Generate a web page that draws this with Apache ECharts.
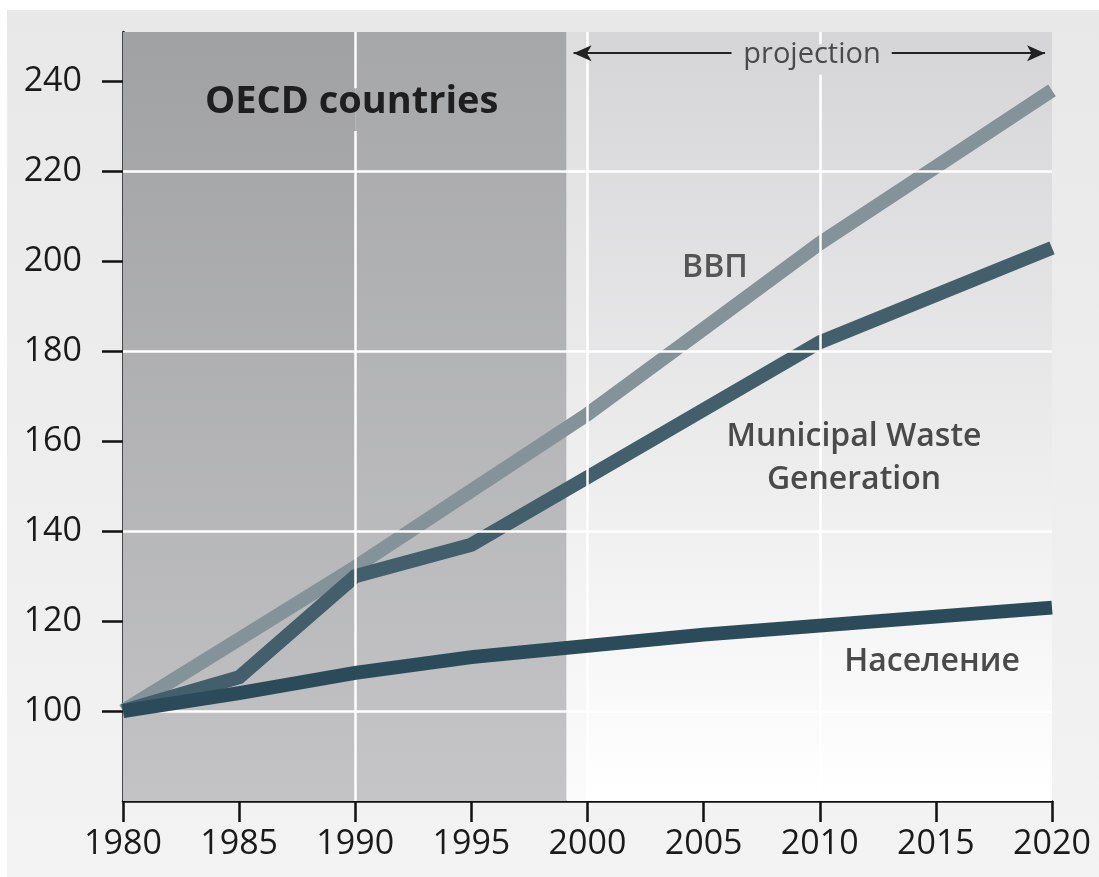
<!DOCTYPE html>
<html>
<head>
<meta charset="utf-8">
<script src="https://cdn.jsdelivr.net/npm/echarts@6/dist/echarts.min.js"></script>
<style>
html,body{margin:0;padding:0;background:#fff;}
#panel{position:absolute;left:7px;top:10px;right:0;bottom:0;background:linear-gradient(#e8e8e8,#f3f3f3);}
#chart{position:absolute;left:0;top:0;width:1099px;height:877px;}
</style>
</head>
<body>
<div id="panel"></div>
<div id="chart"></div>
<script>
// ---- data ----
const years = [1980, 1985, 1990, 1995, 2000, 2005, 2010, 2015, 2020];
const gdp = [100, 116, 132, 149, 166, 185, 204, 221, 238];
const waste = [100, 107.5, 130, 137, 152, 167, 182, 192.5, 203];
const population = [100, 104, 108.5, 112, 114.5, 117, 119, 121, 123];
const seriesNames = ['ВВП', 'Municipal Waste Generation', 'Население'];
const yTickLabels = [100, 120, 140, 160, 180, 200, 220, 240];
const xTickLabels = [1980, 1985, 1990, 1995, 2000, 2005, 2010, 2015, 2020];
const hGrid = [100, 140, 180, 220];
const projectionStart = 1999.1;

const FONT = '"Open Sans", "Noto Sans", sans-serif';

function grad(c1, c2) {
  return new echarts.graphic.LinearGradient(0, 0, 0, 1, [
    {offset: 0, color: c1}, {offset: 1, color: c2}
  ]);
}
function pairs(a, b) { return a.map((v, i) => [v, b[i]]); }

const chart = echarts.init(document.getElementById('chart'), null, {renderer: 'canvas'});

const gridLines = [];
hGrid.forEach(v => gridLines.push({yAxis: v}));
gridLines.push([{coord: [2000, 80]}, {coord: [2000, 251]}]);
gridLines.push([{coord: [2010, 80]}, {coord: [2010, 241.5]}]);
gridLines.push([{coord: [2010, 248.3]}, {coord: [2010, 251]}]);
gridLines.push([{coord: [1990, 80]}, {coord: [1990, 229]}]);
gridLines.push([{coord: [1990, 238.5]}, {coord: [1990, 251]}]);

const arrowY = 246.3;

const option = {
  backgroundColor: 'transparent',
  animation: false,
  grid: {left: 123, right: 47, top: 32, bottom: 76, containLabel: false},
  xAxis: {
    type: 'value', min: 1980, max: 2020, interval: 5,
    axisLine: {show: true, lineStyle: {color: '#111', width: 2.5}},
    axisTick: {show: true, length: 21, lineStyle: {color: '#111', width: 2.5}},
    axisLabel: {margin: 26, fontSize: 34, color: '#1a1a1a', fontFamily: FONT,
      customValues: xTickLabels, formatter: v => String(v)},
    splitLine: {show: false}
  },
  yAxis: {
    type: 'value', min: 80, max: 251,
    axisLine: {show: true, lineStyle: {color: '#111', width: 2.5}},
    axisTick: {show: true, length: 21, customValues: yTickLabels, lineStyle: {color: '#111', width: 2.5}},
    axisLabel: {margin: 41, fontSize: 34, color: '#1a1a1a', fontFamily: FONT,
      customValues: yTickLabels, formatter: v => String(v)},
    splitLine: {show: false}
  },
  series: [
    {
      type: 'line', name: 'bg', data: [], z: 1, silent: true,
      markArea: {
        silent: true,
        data: [
          [{xAxis: 1980, itemStyle: {color: grad('#a0a1a3', '#c3c3c5')}}, {xAxis: 1990}],
          [{xAxis: 1990, itemStyle: {color: grad('#a6a7a9', '#c5c5c7')}}, {xAxis: projectionStart}],
          [{xAxis: projectionStart, itemStyle: {color: grad('#dedede', '#fbfbfb')}}, {xAxis: 2000}],
          [{xAxis: 2000, itemStyle: {color: grad('#d5d5d7', '#ffffff')}}, {xAxis: 2020}]
        ]
      },
      markLine: {
        silent: true, symbol: ['none', 'none'],
        lineStyle: {color: '#ffffff', width: 2.5, type: 'solid'},
        label: {show: false},
        data: gridLines
      }
    },
    {
      type: 'line', name: seriesNames[0], data: pairs(years, gdp), z: 3,
      showSymbol: false, lineStyle: {color: '#84929a', width: 14, cap: 'butt', join: 'miter'}
    },
    {
      type: 'line', name: seriesNames[1], data: pairs(years, waste), z: 4,
      showSymbol: false, lineStyle: {color: '#435f6c', width: 14, cap: 'butt', join: 'miter'}
    },
    {
      type: 'line', name: seriesNames[2], data: pairs(years, population), z: 5,
      showSymbol: false, lineStyle: {color: '#2b4b5b', width: 14, cap: 'butt', join: 'miter'}
    },
    {
      type: 'line', name: 'projection', data: [], z: 6, silent: true,
      markLine: {
        silent: true,
        symbolSize: [12, 18],
        lineStyle: {color: '#222', width: 2, type: 'solid'},
        label: {show: false},
        data: [
          [{coord: [projectionStart + 0.3, arrowY], symbol: 'arrow'}, {coord: [2006.2, arrowY], symbol: 'none'}],
          [{coord: [2013.1, arrowY], symbol: 'none'}, {coord: [2019.7, arrowY], symbol: 'arrow'}]
        ]
      }
    }
  ],
  graphic: [
    {type: 'text', z: 100, left: 205, top: 83, style: {text: 'OECD countries', fontSize: 38, fontWeight: 'bold', fill: '#1e1e1e', fontFamily: FONT}},
    {type: 'text', z: 100, x: 812, y: 55, style: {text: 'projection', fontSize: 29, fill: '#4a4a4a', fontFamily: FONT, align: 'center', verticalAlign: 'middle'}},
    {type: 'text', z: 100, x: 715, y: 268, style: {text: 'ВВП', fontSize: 32, fontWeight: 600, fill: '#555555', fontFamily: FONT, align: 'center', verticalAlign: 'middle'}},
    {type: 'text', z: 100, x: 854, y: 458, style: {text: 'Municipal Waste\nGeneration', fontSize: 32, fontWeight: 600, fill: '#4a4a4a', fontFamily: FONT, align: 'center', verticalAlign: 'middle', lineHeight: 43}},
    {type: 'text', z: 100, x: 932, y: 662, style: {text: 'Население', fontSize: 32, fontWeight: 600, fill: '#4a4a4a', fontFamily: FONT, align: 'center', verticalAlign: 'middle'}}
  ]
};
chart.setOption(option);
</script>
</body>
</html>
